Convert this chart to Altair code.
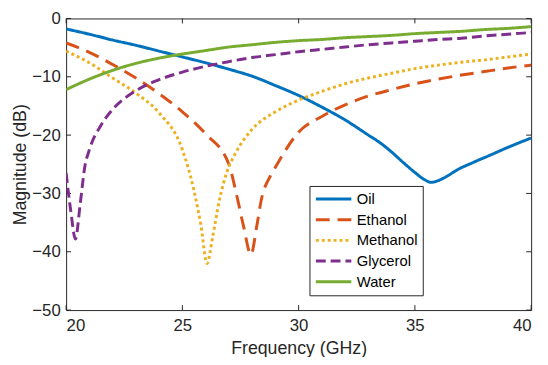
import altair as alt
import pandas as pd

series = ["Oil", "Ethanol", "Methanol", "Glycerol", "Water"]
colors = ["#0072BD", "#D95319", "#EDB120", "#7E2F8E", "#77AC30"]
dashes = [[1, 0], [14, 8], [3, 3], [10, 5], [1, 0]]

oil_f = [20, 21, 22, 23, 24, 25, 26, 27, 28, 29, 30, 31, 32, 33, 33.5, 34, 34.5, 35, 35.4, 35.7, 36.0, 36.4, 36.8, 37.5, 38.2, 39, 40]
oil_v = [-1.8, -2.7, -3.7, -4.6, -5.6, -6.6, -7.6, -8.7, -9.9, -11.5, -13.2, -15.2, -17.4, -20.0, -21.3, -22.9, -24.7, -26.4, -27.6, -28.1, -27.8, -27.0, -26.0, -24.7, -23.5, -22.1, -20.5]

eth_f = [20, 21, 22, 23, 24, 25, 26, 27, 27.33, 27.63, 27.95, 28.2, 28.4, 28.8, 29, 30, 31, 32, 33, 34, 35, 36, 37, 38, 39, 40]
eth_v = [-4.2, -5.8, -7.9, -10.2, -12.9, -16.0, -19.8, -25.0, -30.2, -35.6, -40.5, -35.6, -31.0, -26.9, -25.5, -19.5, -16.8, -14.8, -13.3, -12.2, -11.2, -10.4, -9.7, -9.1, -8.5, -8.0]

met_f = [20, 21, 22, 23, 24, 25, 25.5, 25.8, 26.06, 26.3, 26.6, 26.9, 27.3, 28, 29, 30, 31, 32, 33, 34, 35, 36, 37, 38, 39, 40]
met_v = [-5.6, -7.6, -10.2, -12.8, -16.2, -22.5, -29.5, -35.5, -42.0, -37.5, -31.0, -26.5, -23.0, -19.0, -16.0, -14.0, -12.5, -11.2, -10.2, -9.4, -8.6, -8.0, -7.5, -7.1, -6.6, -6.1]

gly_f = [20, 20.2, 20.4, 20.6, 20.8, 21, 21.5, 22, 23, 24, 25, 26, 27, 28, 29, 30, 31, 32, 33, 34, 35, 36, 37, 38, 39, 40]
gly_v = [-26.5, -33.0, -37.8, -32.0, -25.5, -22.5, -18.3, -15.6, -12.4, -10.5, -9.2, -8.2, -7.4, -6.7, -6.2, -5.7, -5.3, -4.9, -4.5, -4.2, -3.9, -3.6, -3.4, -3.0, -2.7, -2.4]

wat_f = [20, 21, 22, 23, 24, 25, 26, 27, 28, 29, 30, 31, 32, 33, 34, 35, 36, 37, 38, 39, 40]
wat_v = [-12.2, -10.4, -8.9, -7.7, -6.8, -6.1, -5.5, -4.9, -4.5, -4.1, -3.8, -3.6, -3.3, -3.1, -2.9, -2.6, -2.4, -2.2, -1.9, -1.7, -1.4]

x_ticks = [20, 25, 30, 35, 40]
y_ticks = [-50, -40, -30, -20, -10, 0]

rows = []
for name, fs, vs in zip(series, [oil_f, eth_f, met_f, gly_f, wat_f], [oil_v, eth_v, met_v, gly_v, wat_v]):
    for f, v in zip(fs, vs):
        rows.append({"series": name, "freq": f, "mag": v})
df = pd.DataFrame(rows)

W, H = 472, 296
FONT = "Liberation Sans"
AX = "#262626"

xscale = alt.Scale(domain=[20, 40], nice=False, zero=False)
yscale = alt.Scale(domain=[-50, 0], nice=False, zero=False)

legend = alt.Legend(
    title=None, orient="none", legendX=247, legendY=170,
    symbolType="stroke", symbolSize=1296, symbolStrokeWidth=3,
    labelFontSize=15, labelFont=FONT, labelColor="#000000", labelOffset=4,
    padding=5, rowPadding=4, clipHeight=16.5,
    strokeColor=AX, fillColor="white", cornerRadius=0,
)

lines = alt.Chart(df).mark_line(strokeWidth=3, interpolate="monotone", strokeCap="butt", clip=True).encode(
    x=alt.X("freq:Q", scale=xscale,
            axis=alt.Axis(values=x_ticks, title="Frequency (GHz)", grid=False, domain=False,
                          tickSize=0, labelPadding=8, titlePadding=6, format="d")),
    y=alt.Y("mag:Q", scale=yscale,
            axis=alt.Axis(values=y_ticks, title="Magnitude (dB)", grid=False, domain=False,
                          tickSize=0, labelPadding=6, titlePadding=2, format="d")),
    color=alt.Color("series:N", scale=alt.Scale(domain=series, range=colors), legend=legend),
    strokeDash=alt.StrokeDash("series:N", scale=alt.Scale(domain=series, range=dashes), legend=legend),
)

xt = pd.DataFrame({"t": x_ticks})
yt = pd.DataFrame({"t": y_ticks})
tick_style = dict(color=AX, strokeWidth=1)
xtop = alt.Chart(xt).mark_rule(**tick_style).encode(x=alt.X("t:Q", scale=xscale), y=alt.value(0), y2=alt.value(5))
xbot = alt.Chart(xt).mark_rule(**tick_style).encode(x=alt.X("t:Q", scale=xscale), y=alt.value(H), y2=alt.value(H - 5))
yleft = alt.Chart(yt).mark_rule(**tick_style).encode(y=alt.Y("t:Q", scale=yscale), x=alt.value(0), x2=alt.value(5))
yright = alt.Chart(yt).mark_rule(**tick_style).encode(y=alt.Y("t:Q", scale=yscale), x=alt.value(W), x2=alt.value(W - 5))

chart = alt.layer(xtop, xbot, yleft, yright, lines).properties(
    width=W, height=H,
    autosize=alt.AutoSizeParams(type="none"),
    padding={"left": 59, "top": 8, "right": 9, "bottom": 45},
).configure_view(stroke=AX, strokeWidth=1).configure_axis(
    labelFont=FONT, labelFontSize=17, labelColor=AX,
    titleFont=FONT, titleFontSize=18, titleColor=AX, titleFontWeight="normal",
)

chart.save("out.html", embed_options={"renderer": "svg", "actions": False})
